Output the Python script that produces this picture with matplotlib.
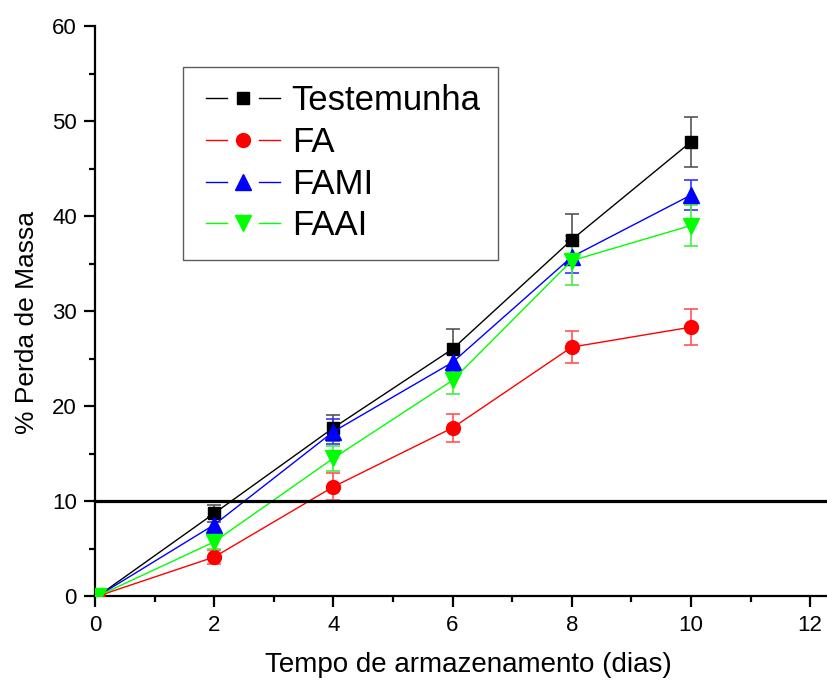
import matplotlib
matplotlib.use("Agg")
import matplotlib.pyplot as plt
from matplotlib.lines import Line2D
from matplotlib.legend_handler import HandlerBase
from matplotlib.ticker import MultipleLocator

plt.rcParams['font.family'] = ['Liberation Sans', 'DejaVu Sans']

dias = [0.05, 2, 4, 6, 8, 10]
series_names = ["Testemunha", "FA", "FAMI", "FAAI"]
testemunha = [0.0, 8.7, 17.7, 26.0, 37.5, 47.8]
testemunha_err = [0.0, 0.9, 1.4, 2.1, 2.7, 2.6]
fa = [0.0, 4.1, 11.5, 17.7, 26.2, 28.3]
fa_err = [0.0, 0.7, 1.4, 1.5, 1.7, 1.9]
fami = [0.0, 7.5, 17.3, 24.6, 35.7, 42.2]
fami_err = [0.0, 0.8, 1.3, 0.9, 1.7, 1.6]
faai = [0.0, 5.7, 14.5, 22.7, 35.3, 39.0]
faai_err = [0.0, 0.7, 1.3, 1.4, 2.6, 2.2]
limite = 10

colors = ["#000000", "#ff0000", "#0000ff", "#00ff00"]
err_colors = ["#555555", "#ff5555", "#3333ff", "#44ee44"]
markers = ["s", "o", "^", "v"]
msizes = [9, 10, 11, 11]

fig = plt.figure(figsize=(8.28, 6.82), dpi=100)
ax = fig.add_axes([95/828, 1-596/682, 733/828, 570/682])

ys = [testemunha, fa, fami, faai]
errs = [testemunha_err, fa_err, fami_err, faai_err]
for name, y, e, c, ec, m, ms in zip(series_names, ys, errs, colors, err_colors, markers, msizes):
    ax.errorbar(dias, y, yerr=e, fmt='none', ecolor=ec, elinewidth=1.2, capsize=5, capthick=1.2, zorder=2)
    ax.plot(dias, y, color=c, lw=1.0, marker=m, ms=ms, mec=c, mfc=c, label=name, zorder=3)

ax.axhline(limite, color='black', lw=2.3, zorder=4)

ax.set_xlim(0, 12.3)
ax.set_ylim(0, 60)
ax.xaxis.set_major_locator(MultipleLocator(2))
ax.xaxis.set_minor_locator(MultipleLocator(1))
ax.yaxis.set_major_locator(MultipleLocator(10))
ax.yaxis.set_minor_locator(MultipleLocator(5))
for s in ['top', 'right']:
    ax.spines[s].set_visible(False)
for s in ['left', 'bottom']:
    ax.spines[s].set_linewidth(1.6)
ax.tick_params(which='major', direction='out', length=8, width=1.6, labelsize=16)
ax.tick_params(axis='x', which='major', pad=6)
ax.tick_params(axis='y', which='major', pad=5)
ax.tick_params(which='minor', direction='out', length=4, width=1.6)
ax.set_xlabel("Tempo de armazenamento (dias)", fontsize=20)
ax.set_ylabel("% Perda de Massa", fontsize=19)
ax.xaxis.set_label_coords(0.509, -0.098)
ax.yaxis.set_label_coords(-0.077, 0.48)


class GapHandler(HandlerBase):
    def create_artists(self, legend, orig, xdescent, ydescent, width, height, fontsize, trans):
        y = height / 2 - ydescent
        x0 = -xdescent + 4
        w = width - 4
        cx = x0 + w / 2
        gap = w * 0.22
        c = orig.get_color()
        l1 = Line2D([x0, cx - gap], [y, y], color=c, lw=1.0, transform=trans)
        l2 = Line2D([cx + gap, x0 + w], [y, y], color=c, lw=1.0, transform=trans)
        mk = Line2D([cx], [y], marker=orig.get_marker(), ms=orig.get_markersize(),
                    color=c, linestyle='none', transform=trans)
        return [l1, l2, mk]


handles, labels = ax.get_legend_handles_labels()
leg = ax.legend(handles, labels, loc='upper left', bbox_to_anchor=(88/733, (596-67)/570),
                borderaxespad=0, fontsize=25, frameon=True, fancybox=False,
                handlelength=2.28, handletextpad=0.35, labelspacing=0.25,
                borderpad=0.5, handler_map={Line2D: GapHandler()})
leg.get_frame().set_edgecolor('#333333')
leg.get_frame().set_linewidth(1.0)

fig.savefig("out.png", dpi=100)
